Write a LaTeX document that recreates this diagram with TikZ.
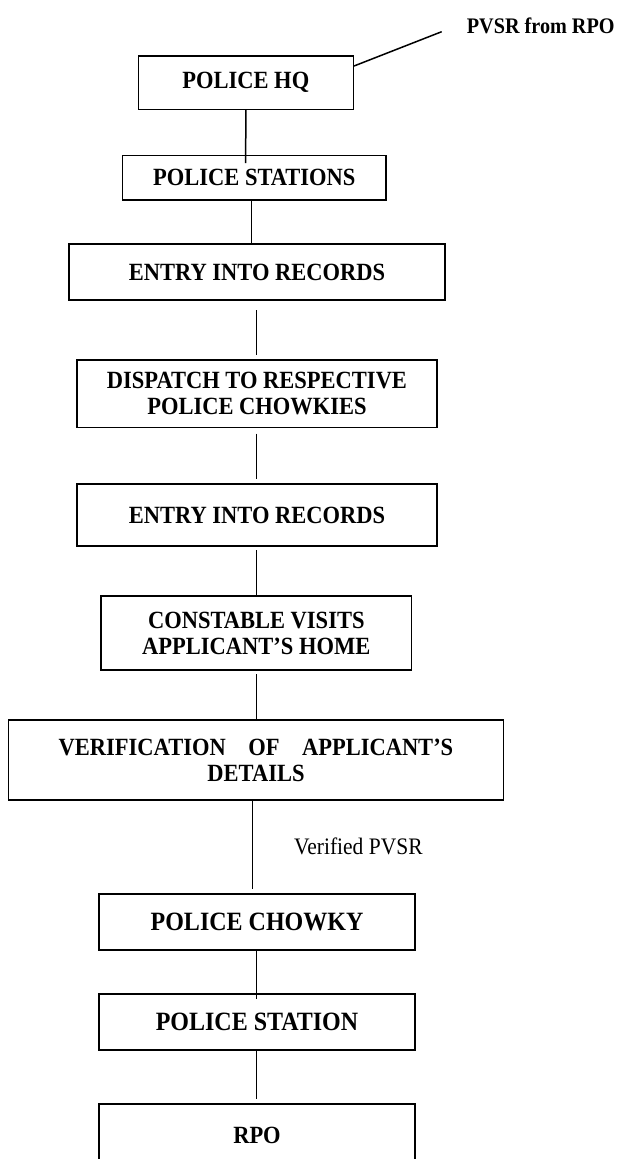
\documentclass[tikz,border=0pt]{standalone}
\usepackage{fontspec}
\usepackage{graphicx}
\setmainfont{Liberation Serif}
\usetikzlibrary{calc}
\newcommand{\tl}[1]{\scalebox{1}[1.1]{#1}}
\begin{document}
\begin{tikzpicture}[x=1pt,y=-1pt,
  box/.style={draw, line width=1.5pt, inner sep=0pt, align=center,
    font=\fontsize{22.5}{26}\selectfont\bfseries},
  big/.style={font=\fontsize{24}{26}\selectfont\bfseries},
  conn/.style={line width=1.5pt}]
\useasboundingbox (0,0) rectangle (628,1159);
% boxes
\node[box, minimum width=215pt, minimum height=53.3pt] (hq) at (245.8,82.7) {\tl{POLICE HQ}};
\node[box, minimum width=263.3pt, minimum height=44.3pt] (st) at (254.3,177.8) {\tl{POLICE STATIONS}};
\node[box, minimum width=376pt, minimum height=56pt] (e1) at (257,272) {\tl{ENTRY INTO RECORDS}};
\node[box, minimum width=360pt, minimum height=67.5pt] (d) at (257,393.7) {\tl{DISPATCH TO RESPECTIVE}\\\tl{POLICE CHOWKIES}};
\node[box, minimum width=360pt, minimum height=62pt] (e2) at (257,515) {\tl{ENTRY INTO RECORDS}};
\node[box, minimum width=310.7pt, minimum height=74pt] (c) at (256.3,633) {\tl{CONSTABLE VISITS}\\\tl{APPLICANT’S HOME}};
\node[box, minimum width=494.6pt, minimum height=80pt] (v) at (256,760) {\tl{VERIFICATION\hspace{1em}OF\hspace{1em}APPLICANT’S}\\\tl{DETAILS}};
\node[box, big, minimum width=316pt, minimum height=56pt] (ch) at (257,922) {\tl{POLICE CHOWKY}};
\node[box, big, minimum width=316pt, minimum height=56pt] (ps) at (257,1022) {\tl{POLICE STATION}};
\node[box, minimum width=316pt, minimum height=62pt] (rpo) at (257,1135) {\tl{RPO}};
% labels
\node[anchor=base west, inner sep=0pt, font=\fontsize{20.2}{24}\selectfont\bfseries] (pvsr) at (466.7,33.5) {\tl{PVSR from RPO}};
\node[anchor=base west, inner sep=0pt, font=\fontsize{21.5}{24}\selectfont] (vl) at (294,854) {\tl{Verified PVSR}};
% connectors
\draw[conn] ($(hq.north east)+(0,10.7)$) -- ($(pvsr.base west)+(-25,-1.8)$);
\draw[conn] (hq.south) -- ($(st.north)+(-8.6,8.3)$);
\draw[conn] ($(st.south)+(-2.6,0)$) -- ($(e1.north)+(-5.3,0)$);
\draw[conn] ($(e1.south)+(-0.3,9.3)$) -- ($(d.north)+(-0.3,-4)$);
\draw[conn] ($(d.south)+(-0.3,5.5)$) -- ($(e2.north)+(-0.3,-4)$);
\draw[conn] ($(e2.south)+(-0.3,3.3)$) -- ($(c.north)+(0.4,0)$);
\draw[conn] ($(c.south)+(0.4,3.3)$) -- ($(v.north)+(0.7,0)$);
\draw[conn] ($(v.south)+(-3.5,0)$) -- ($(ch.north)+(-4.5,-4)$);
\draw[conn] ($(ch.south)+(-0.3,0)$) -- ($(ps.north)+(-0.3,6)$);
\draw[conn] ($(ps.south)+(-0.3,0)$) -- ($(rpo.north)+(-0.3,-4)$);
\end{tikzpicture}
\end{document}
